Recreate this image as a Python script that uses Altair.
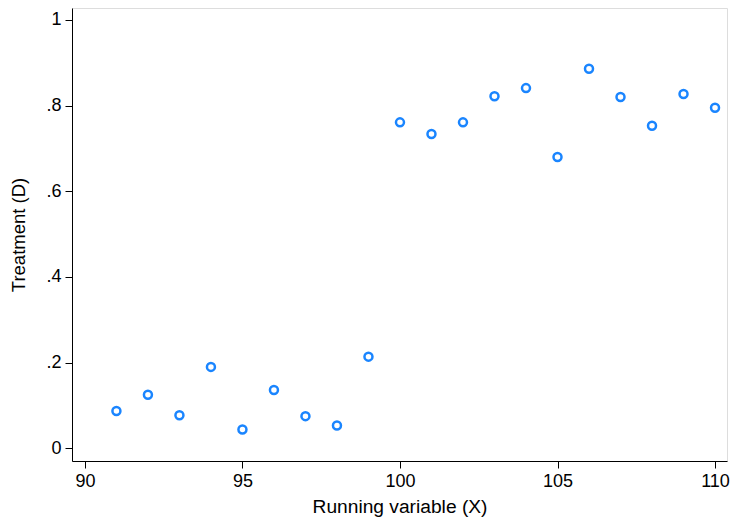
import altair as alt
import pandas as pd

x_vals = [91, 92, 93, 94, 95, 96, 97, 98, 99, 100, 101, 102, 103, 104, 105, 106, 107, 108, 109, 110]
y_vals = [0.087, 0.125, 0.077, 0.190, 0.044, 0.136, 0.075, 0.053, 0.214,
          0.761, 0.734, 0.761, 0.822, 0.841, 0.680, 0.886, 0.820, 0.753, 0.827, 0.795]
x_ticks = [90, 95, 100, 105, 110]
y_ticks = [0, 0.2, 0.4, 0.6, 0.8, 1]

df = pd.DataFrame({"x": x_vals, "y": y_vals})

font = "Liberation Sans"

chart = alt.Chart(df).mark_point(
    shape="circle", filled=False, size=64, strokeWidth=2.5, color="#1a85ff", opacity=1
).encode(
    x=alt.X("x:Q", scale=alt.Scale(domain=[89.59, 110.38], nice=False, zero=False),
            axis=alt.Axis(values=x_ticks, title="Running variable (X)", grid=False,
                          labelFont=font, labelFontSize=18, titleFont=font, titleFontSize=19.2,
                          titleFontWeight="normal", labelColor="#000", titleColor="#000",
                          domainColor="#000", tickColor="#000", tickSize=7, labelPadding=4,
                          titlePadding=7, labelFlush=False, labelOverlap=False)),
    y=alt.Y("y:Q", scale=alt.Scale(domain=[-0.0297, 1.028], nice=False, zero=False),
            axis=alt.Axis(values=y_ticks, title="Treatment (D)", grid=False,
                          labelExpr="datum.value == 0 ? '0' : datum.value == 1 ? '1' : replace(format(datum.value, '.1f'), '0.', '.')",
                          labelFont=font, labelFontSize=18, titleFont=font, titleFontSize=18.5,
                          titleFontWeight="normal", labelColor="#000", titleColor="#000",
                          domainColor="#000", tickColor="#000", tickSize=7, labelPadding=4,
                          titlePadding=17, labelFlush=False, labelOverlap=False)),
).properties(
    width=655, height=453,
    autosize=alt.AutoSizeParams(type="none"),
    padding={"left": 64, "top": 0, "right": 5, "bottom": 59},
).configure_view(stroke=None).configure(background="white")

chart.save("out.html", embed_options={"renderer": "svg", "actions": False})
